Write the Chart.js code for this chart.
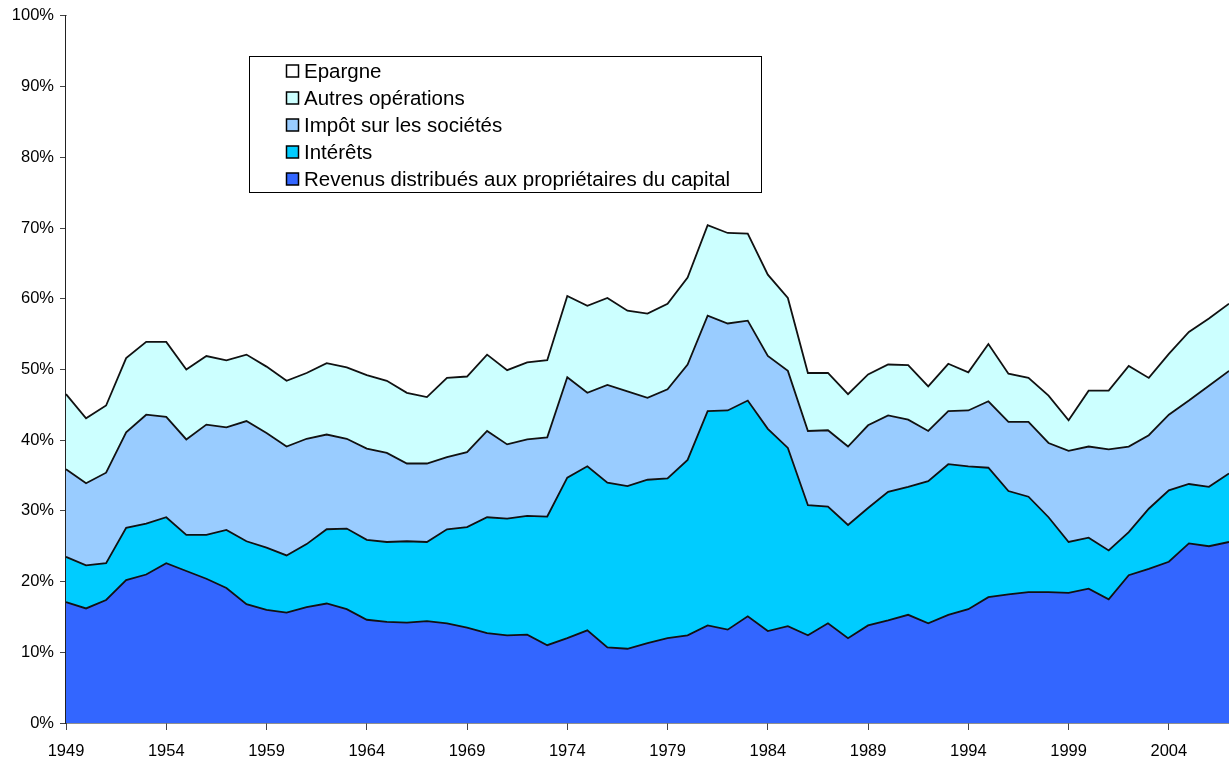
<!DOCTYPE html>
<html>
<head>
<meta charset="utf-8">
<script src="https://cdn.jsdelivr.net/npm/chart.js@4/dist/chart.umd.min.js"></script>
<style>
  html, body { margin: 0; padding: 0; background: #ffffff; }
  #wrap { width: 1229px; height: 762px; position: relative; }
</style>
</head>
<body>
<div id="wrap"><canvas id="c"></canvas></div>
<script>
const years = ['1949','1950','1951','1952','1953','1954','1955','1956','1957','1958',
  '1959','1960','1961','1962','1963','1964','1965','1966','1967','1968',
  '1969','1970','1971','1972','1973','1974','1975','1976','1977','1978',
  '1979','1980','1981','1982','1983','1984','1985','1986','1987','1988',
  '1989','1990','1991','1992','1993','1994','1995','1996','1997','1998',
  '1999','2000','2001','2002','2003','2004','2005','2006','2007'];

const revenus = [17.1,16.2,17.4,20.2,21.0,22.6,21.5,20.4,19.1,16.8,
  16.0,15.6,16.4,16.9,16.1,14.6,14.3,14.2,14.4,14.1,
  13.5,12.7,12.4,12.5,11.0,12.0,13.1,10.7,10.5,11.3,
  12.0,12.4,13.8,13.2,15.1,13.0,13.7,12.4,14.1,12.0,
  13.8,14.5,15.3,14.1,15.3,16.1,17.8,18.2,18.5,18.5,
  18.4,19.0,17.5,20.9,21.8,22.8,25.4,25.0,25.6];

const interets = [6.4,6.1,5.2,7.4,7.2,6.5,5.1,6.2,8.2,8.9,
  8.8,8.1,8.9,10.5,11.4,11.3,11.3,11.5,11.2,13.3,
  14.2,16.4,16.5,16.8,18.2,22.7,23.2,23.3,23.0,23.1,
  22.6,24.8,30.3,31.0,30.5,28.6,25.2,18.4,16.5,16.0,
  16.6,18.2,18.1,20.1,21.3,20.2,18.3,14.6,13.5,10.6,
  7.2,7.2,6.9,6.1,8.5,10.1,8.4,8.4,9.7];

const impot = [12.4,11.6,12.8,13.5,15.4,14.2,13.5,15.6,14.5,17.0,
  16.2,15.4,14.9,13.4,12.7,12.9,12.6,11.0,11.1,10.2,
  10.6,12.2,10.5,10.8,11.2,14.2,10.4,13.8,13.4,11.6,
  12.6,13.5,13.5,12.3,11.3,10.3,10.9,10.5,10.8,11.1,
  11.7,10.8,9.5,7.1,7.5,7.9,9.4,9.8,10.6,10.5,
  12.9,12.9,14.3,12.1,10.4,10.7,11.8,14.3,14.5];

const autres = [10.6,9.2,9.5,10.5,10.3,10.6,9.9,9.7,9.5,9.4,
  9.4,9.3,9.3,10.1,10.1,10.4,10.2,10.0,9.4,11.2,
  10.7,10.8,10.5,10.9,10.9,11.5,12.3,12.3,11.4,11.9,
  12.1,12.3,12.8,12.8,12.3,11.5,10.3,8.2,8.1,7.4,
  7.2,7.2,7.7,6.3,6.7,5.4,8.1,6.8,6.2,6.7,
  4.3,7.9,8.3,11.4,8.1,8.6,9.7,9.5,9.5];

const epargne = [53.5,56.9,55.1,48.4,46.1,46.1,50.0,48.1,48.7,47.9,
  49.6,51.6,50.5,49.1,49.7,50.8,51.6,53.3,53.9,51.2,
  51.0,47.9,50.1,49.0,48.7,39.6,41.0,39.9,41.7,42.1,
  40.7,37.0,29.6,30.7,30.8,36.6,39.9,50.5,50.5,53.5,
  50.7,49.3,49.4,52.4,49.2,50.4,46.4,50.6,51.2,53.7,
  57.2,53.0,53.0,49.5,51.2,47.8,44.7,42.8,40.7];

const seriesNames = ['Revenus distribués aux propriétaires du capital','Intérêts','Impôt sur les sociétés','Autres opérations','Epargne'];
const seriesColors = ['#3366FF','#00CCFF','#99CCFF','#CCFFFF','#FFFFFF'];
const seriesData = [revenus, interets, impot, autres, epargne];
const yTicks = ['0%','10%','20%','30%','40%','50%','60%','70%','80%','90%','100%'];

const FONT = '"Liberation Sans", Arial, sans-serif';

const datasets = seriesData.map((d, i) => ({
  label: seriesNames[i],
  data: d,
  backgroundColor: seriesColors[i],
  borderColor: '#111111',
  borderWidth: i === 4 ? 0 : 1.8,
  pointRadius: 0,
  pointHoverRadius: 0,
  tension: 0,
  fill: i === 0 ? 'origin' : '-1'
}));

const legendPlugin = {
  id: 'boxLegend',
  afterDraw(chart) {
    const ctx = chart.ctx;
    ctx.save();
    const bx = 249.5, by = 56.5, bw = 512, bh = 136;
    ctx.fillStyle = '#ffffff';
    ctx.fillRect(bx, by, bw, bh);
    ctx.strokeStyle = '#000000';
    ctx.lineWidth = 1;
    ctx.strokeRect(bx, by, bw, bh);
    const ds = chart.data.datasets.slice().reverse();
    ctx.font = '20.5px ' + FONT;
    ctx.textBaseline = 'middle';
    ds.forEach((d, i) => {
      const cy = 71.5 + i * 27;
      ctx.fillStyle = d.backgroundColor;
      ctx.fillRect(286.5, cy - 6.5, 12, 12);
      ctx.lineWidth = 1.5;
      ctx.strokeStyle = '#000000';
      ctx.strokeRect(286.5, cy - 6.5, 12, 12);
      ctx.fillStyle = '#000000';
      ctx.fillText(d.label, 304, cy + 1);
    });
    ctx.restore();
  }
};

new Chart(document.getElementById('c'), {
  type: 'line',
  data: { labels: years, datasets },
  options: {
    responsive: true,
    maintainAspectRatio: false,
    animation: false,
    layout: { padding: { top: 15, right: 0, left: 0, bottom: 0 } },
    plugins: {
      legend: { display: false },
      tooltip: { enabled: false }
    },
    scales: {
      x: {
        offset: false,
        grid: { drawOnChartArea: false, drawTicks: true, tickLength: 7, color: '#444444', tickWidth: 1 },
        border: { display: true, color: '#222222', width: 1.5 },
        ticks: {
          autoSkip: false,
          maxRotation: 0,
          padding: 12,
          color: '#000000',
          font: { family: FONT, size: 16.5 },
          callback: function(v, idx) { return idx % 5 === 0 ? years[idx] : null; }
        },
        afterFit(scale) { scale.height = 39; }
      },
      y: {
        stacked: true,
        min: 0, max: 100,
        grid: { drawOnChartArea: false, drawTicks: true, tickLength: 6, color: '#444444' },
        border: { display: true, color: '#222222', width: 1.5 },
        ticks: {
          stepSize: 10,
          padding: 6,
          color: '#000000',
          font: { family: FONT, size: 16.5 },
          callback: function(v) { return yTicks[Math.round(v / 10)]; }
        },
        afterFit(scale) { scale.width = 66; }
      }
    }
  },
  plugins: [legendPlugin]
});
</script>
</body>
</html>
